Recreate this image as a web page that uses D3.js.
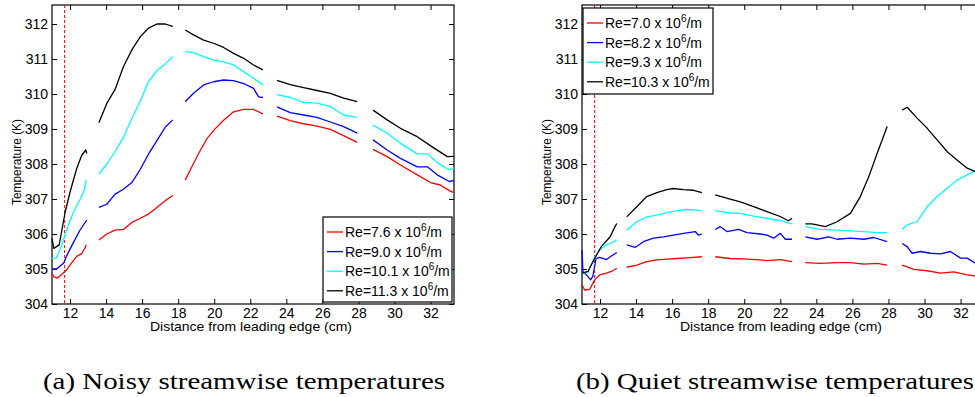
<!DOCTYPE html>
<html>
<head>
<meta charset="utf-8">
<script src="https://cdn.jsdelivr.net/npm/d3@7"></script>
<style>
  body { margin: 0; background: #fff; }
  svg text { font-family: "Liberation Sans", Arial, sans-serif; }
</style>
</head>
<body>
<div id="chart"></div>
<script>
// tick values
const xTicks = [12, 14, 16, 18, 20, 22, 24, 26, 28, 30, 32];
const yTicks = [304, 305, 306, 307, 308, 309, 310, 311, 312];
const colors = ["#ff0000", "#0000ff", "#00ffff", "#000000"];
const leadingEdge = 11.7;

// (a) noisy - each series is a list of segments of [distance cm, temperature K]
const noisyLabels = ["7.6", "9.0", "10.1", "11.3"];
const noisyRe76 = [
  [[11.0,304.86],[11.1,304.78],[11.3,304.74],[11.5,304.83],[11.8,304.97],[12.08,305.17],[12.37,305.36],[12.65,305.44],[12.83,305.6],[12.9,305.69]],
  [[13.6,305.83],[14.04,306.0],[14.5,306.11],[14.96,306.13],[15.43,306.33],[15.9,306.45],[16.35,306.57],[16.82,306.76],[17.28,306.95],[17.7,307.1]],
  [[18.39,307.54],[18.67,307.83],[19.13,308.3],[19.6,308.73],[20.06,309.01],[20.52,309.25],[21.07,309.49],[21.63,309.56],[22.18,309.56],[22.7,309.43]],
  [[23.48,309.37],[24.22,309.24],[24.96,309.15],[25.7,309.08],[26.44,308.99],[27.18,308.81],[27.93,308.62]],
  [[28.81,308.42],[29.59,308.21],[30.33,307.97],[31.26,307.69],[32.0,307.47],[32.54,307.4],[33.04,307.24],[33.3,307.18]]
];
const noisyRe90 = [
  [[11.0,305.0],[11.25,305.0],[11.65,305.17],[11.8,305.36],[12.17,305.74],[12.54,306.1],[12.8,306.3],[12.93,306.4]],
  [[13.6,306.76],[14.04,306.85],[14.5,307.14],[14.96,307.28],[15.43,307.47],[15.9,307.85],[16.35,308.28],[16.82,308.67],[17.28,309.05],[17.7,309.26]],
  [[18.39,309.78],[18.85,310.02],[19.41,310.26],[19.96,310.35],[20.52,310.4],[21.07,310.38],[21.63,310.3],[22.18,310.16],[22.46,309.92],[22.7,309.9]],
  [[23.48,309.63],[24.22,309.47],[24.96,309.4],[25.7,309.33],[26.44,309.2],[27.18,309.07],[27.93,308.88]],
  [[28.81,308.69],[29.59,308.4],[30.33,308.16],[31.26,307.92],[31.82,307.92],[32.37,307.69],[33.04,307.5],[33.3,307.53]]
];
const noisyRe101 = [
  [[11.0,305.29],[11.24,305.32],[11.52,305.65],[11.8,306.1],[12.17,306.6],[12.54,306.97],[12.8,307.26],[12.9,307.55]],
  [[13.6,307.71],[14.04,308.0],[14.5,308.35],[14.96,308.76],[15.43,309.3],[15.9,309.8],[16.35,310.35],[16.82,310.67],[17.28,310.86],[17.7,311.07]],
  [[18.39,311.21],[18.85,311.18],[19.41,311.07],[19.96,310.97],[20.52,310.92],[21.07,310.83],[21.63,310.64],[22.18,310.45],[22.7,310.26]],
  [[23.48,309.98],[24.22,309.9],[24.96,309.76],[25.7,309.74],[26.44,309.64],[27.18,309.4],[27.93,309.33]],
  [[28.81,309.11],[29.59,308.88],[30.33,308.59],[31.26,308.29],[31.82,308.29],[32.37,308.04],[33.04,307.83],[33.3,307.88]]
];
const noisyRe113 = [
  [[11.0,305.87],[11.1,305.59],[11.4,305.69],[11.72,306.6],[12.0,307.2],[12.37,307.87],[12.65,308.25],[12.87,308.4],[12.93,308.3]],
  [[13.6,309.18],[14.04,309.73],[14.5,310.13],[14.96,310.78],[15.43,311.26],[15.9,311.64],[16.35,311.88],[16.82,312.0],[17.28,312.0],[17.7,311.93]],
  [[18.39,311.83],[18.85,311.69],[19.41,311.54],[19.96,311.45],[20.52,311.33],[21.07,311.16],[21.63,311.02],[22.18,310.83],[22.7,310.69]],
  [[23.48,310.39],[24.22,310.27],[24.96,310.18],[25.7,310.1],[26.44,310.02],[27.18,309.88],[27.93,309.78]],
  [[28.81,309.54],[29.59,309.26],[30.33,309.02],[31.26,308.78],[32.09,308.49],[32.93,308.21],[33.3,308.22]]
];

// (b) quiet
const quietLabels = ["7.0", "8.2", "9.3", "10.3"];
const quietRe70 = [
  [[11.0,304.54],[11.15,304.4],[11.43,304.42],[11.7,304.69],[11.98,304.83],[12.35,304.88],[12.63,304.93],[12.93,305.02]],
  [[13.48,305.05],[14.04,305.11],[14.59,305.21],[15.15,305.26],[15.7,305.28],[16.26,305.3],[16.81,305.32],[17.65,305.35]],
  [[18.39,305.35],[19.22,305.3],[20.15,305.28],[20.89,305.26],[21.26,305.24],[22.0,305.27],[22.65,305.21]],
  [[23.39,305.18],[24.22,305.16],[25.15,305.18],[25.89,305.18],[26.63,305.14],[27.37,305.16],[27.93,305.11]],
  [[28.76,305.11],[29.41,304.99],[30.15,304.95],[30.89,304.88],[31.63,304.92],[32.37,304.83],[32.83,304.8],[33.3,304.77]]
];
const quietRe82 = [
  [[11.0,305.54],[11.05,304.93],[11.2,304.86],[11.48,304.69],[11.6,304.79],[11.78,305.3],[11.98,305.33],[12.35,305.27],[12.63,305.37],[12.93,305.47]],
  [[13.48,305.69],[13.96,305.62],[14.41,305.78],[14.96,305.88],[15.52,305.92],[16.07,305.97],[16.63,306.02],[17.28,306.07],[17.46,305.97],[17.65,306.0]],
  [[18.39,306.13],[18.67,306.21],[19.04,306.07],[19.69,306.13],[20.15,306.04],[20.89,306.0],[21.26,305.97],[21.63,305.88],[22.0,306.02],[22.28,305.85],[22.65,305.85]],
  [[23.39,305.92],[24.04,305.85],[24.69,305.92],[25.15,305.85],[25.89,305.88],[26.63,305.85],[27.18,305.9],[27.93,305.78]],
  [[28.76,305.73],[29.04,305.64],[29.31,305.45],[29.78,305.5],[30.33,305.45],[30.89,305.43],[31.44,305.5],[32.0,305.31],[32.37,305.31],[32.83,305.16],[33.3,305.1]]
];
const quietRe93 = [
  [[11.0,304.88],[11.33,304.9],[11.7,305.34],[11.98,305.54],[12.35,305.69],[12.63,305.75],[12.93,305.83]],
  [[13.48,306.11],[14.04,306.35],[14.59,306.49],[15.15,306.54],[15.7,306.61],[16.26,306.67],[16.81,306.7],[17.65,306.67]],
  [[18.39,306.67],[19.22,306.6],[19.78,306.59],[20.52,306.51],[21.26,306.45],[22.0,306.38],[22.65,306.29]],
  [[23.39,306.21],[24.22,306.13],[25.15,306.11],[25.89,306.09],[26.63,306.07],[27.37,306.04],[27.93,306.04]],
  [[28.76,306.13],[29.04,306.26],[29.59,306.35],[30.15,306.78],[30.7,307.07],[31.26,307.31],[31.82,307.54],[32.37,307.69],[32.83,307.81],[33.3,307.9]]
];
const quietRe103 = [
  [[11.0,304.88],[11.33,304.93],[11.7,305.3],[12.07,305.64],[12.56,305.92],[12.83,306.21],[12.93,306.3]],
  [[13.48,306.49],[14.04,306.78],[14.59,307.07],[15.15,307.18],[15.7,307.27],[16.07,307.3],[16.63,307.27],[17.19,307.25],[17.65,307.18]],
  [[18.39,307.12],[19.22,307.0],[19.78,306.92],[20.52,306.78],[21.26,306.64],[22.0,306.5],[22.37,306.4],[22.46,306.38],[22.65,306.45]],
  [[23.39,306.29],[23.76,306.29],[24.5,306.21],[25.15,306.35],[25.89,306.59],[26.44,307.07],[26.91,307.64],[27.37,308.3],[27.93,309.07]],
  [[28.76,309.54],[29.04,309.62],[29.59,309.31],[30.15,309.02],[30.7,308.69],[31.26,308.35],[31.82,308.11],[32.37,307.88],[32.83,307.78],[33.3,307.7]]
];

const svg = d3.select("#chart").append("svg")
  .attr("width", 975)
  .attr("height", 397);

const plotTop = 5, plotBottom = 304, plotWidth = 402;

function drawPanel(left, series, labels, legendBox, caption) {
  const x = d3.scaleLinear().domain([11, 33.3]).range([left, left + plotWidth]);
  const y = d3.scaleLinear().domain([304, 312.543]).range([plotBottom, plotTop]);
  const right = left + plotWidth;
  const g = svg.append("g");

  // box
  g.append("rect")
    .attr("x", left).attr("y", plotTop)
    .attr("width", plotWidth).attr("height", plotBottom - plotTop)
    .attr("fill", "none").attr("stroke", "#000").attr("stroke-width", 1.2);

  // ticks on all four sides, pointing in
  g.append("g").attr("transform", `translate(0,${plotBottom})`)
    .call(d3.axisBottom(x).tickValues(xTicks).tickSizeInner(-5).tickSizeOuter(0).tickPadding(4));
  g.append("g").attr("transform", `translate(0,${plotTop})`)
    .call(d3.axisTop(x).tickValues(xTicks).tickSizeInner(-5).tickSizeOuter(0).tickFormat(""));
  g.append("g").attr("transform", `translate(${left},0)`)
    .call(d3.axisLeft(y).tickValues(yTicks).tickSizeInner(-5).tickSizeOuter(0).tickPadding(4));
  g.append("g").attr("transform", `translate(${right},0)`)
    .call(d3.axisRight(y).tickValues(yTicks).tickSizeInner(-5).tickSizeOuter(0).tickFormat(""));
  g.selectAll(".domain").remove();
  g.selectAll(".tick line").attr("stroke", "#000");
  g.selectAll(".tick text")
    .attr("fill", "#000")
    .style("font-size", "14px")
    .style("font-family", "'Liberation Sans', Arial, sans-serif");

  // leading edge marker
  g.append("line")
    .attr("x1", x(leadingEdge)).attr("x2", x(leadingEdge))
    .attr("y1", plotTop).attr("y2", plotBottom)
    .attr("stroke", "#ff0000").attr("stroke-width", 1)
    .attr("stroke-dasharray", "3,2");

  const line = d3.line().x(d => x(d[0])).y(d => y(d[1]));

  series.forEach((segs, i) => {
    segs.forEach(seg => {
      g.append("path")
        .datum(seg)
        .attr("fill", "none")
        .attr("stroke", colors[i])
        .attr("stroke-width", 1.3)
        .attr("stroke-linejoin", "round")
        .attr("d", line);
    });
  });

  // axis labels
  g.append("text")
    .attr("transform", `translate(${left - 34},162) rotate(-90)`)
    .attr("text-anchor", "middle")
    .attr("dominant-baseline", "middle")
    .attr("textLength", 86)
    .attr("lengthAdjust", "spacingAndGlyphs")
    .style("font-size", "12.5px")
    .text("Temperature (K)");

  g.append("text")
    .attr("x", left + plotWidth / 2 - 2)
    .attr("y", 331)
    .attr("text-anchor", "middle")
    .attr("textLength", 202)
    .attr("lengthAdjust", "spacingAndGlyphs")
    .style("font-size", "13.5px")
    .text("Distance from leading edge (cm)");

  // legend
  const lg = g.append("g");
  lg.append("rect")
    .attr("x", legendBox.x).attr("y", legendBox.y)
    .attr("width", legendBox.w).attr("height", legendBox.h)
    .attr("fill", "#fff").attr("stroke", "#000").attr("stroke-width", 1.2);
  labels.forEach((lab, i) => {
    const cy = legendBox.y + 15 + i * 19.6;
    lg.append("line")
      .attr("x1", legendBox.x + 4).attr("x2", legendBox.x + 20)
      .attr("y1", cy).attr("y2", cy)
      .attr("stroke", colors[i]).attr("stroke-width", 1.3);
    const t = lg.append("text")
      .attr("x", legendBox.x + 22)
      .attr("y", cy + 5)
      .style("font-size", "14px");
    t.append("tspan").text(`Re=${lab} x 10`);
    t.append("tspan").attr("dy", -6).style("font-size", "10px").text("6");
    t.append("tspan").attr("dy", 6).text("/m");
  });

  // caption
  g.append("text")
    .attr("x", caption.x)
    .attr("y", 389)
    .attr("textLength", caption.w)
    .attr("lengthAdjust", "spacingAndGlyphs")
    .style("font-family", "'Liberation Serif', 'DejaVu Serif', serif")
    .style("font-size", "24px")
    .text(caption.text);
}

drawPanel(52, [noisyRe76, noisyRe90, noisyRe101, noisyRe113], noisyLabels,
  { x: 323, y: 217, w: 129, h: 85 },
  { x: 43, w: 402, text: "(a) Noisy streamwise temperatures" });

drawPanel(582, [quietRe70, quietRe82, quietRe93, quietRe103], quietLabels,
  { x: 583, y: 8, w: 130, h: 86 },
  { x: 576, w: 398, text: "(b) Quiet streamwise temperatures" });
</script>
</body>
</html>
